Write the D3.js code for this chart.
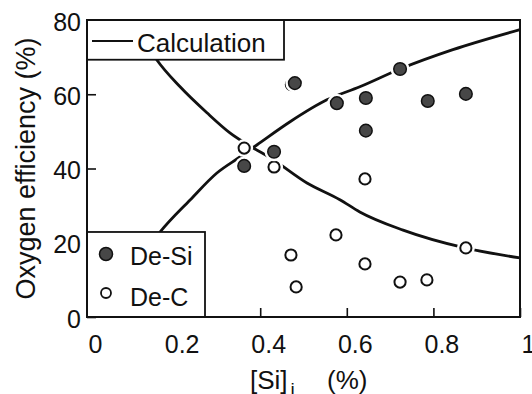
<!DOCTYPE html>
<html>
<head>
<meta charset="utf-8">
<script src="https://cdn.jsdelivr.net/npm/d3@7"></script>
<style>
  html, body { margin: 0; padding: 0; background: #fff; }
  svg { display: block; font-family: "Liberation Sans", Arial, sans-serif; }
</style>
</head>
<body>
<div id="chart"></div>
<script>
// De-Si (filled) observations
const deSiX = [0.363, 0.432, 0.48, 0.577, 0.644, 0.644, 0.723, 0.787, 0.875];
const deSiY = [40.7, 44.5, 63, 57.6, 59, 50.2, 66.8, 58.2, 60.1];

// De-C (open) observations
const deCX = [0.363, 0.432, 0.472, 0.471, 0.483, 0.575, 0.642, 0.642, 0.723, 0.785, 0.875];
const deCY = [45.5, 40.4, 62.6, 16.7, 8.1, 22.1, 37.2, 14.3, 9.4, 10, 18.6];

// Calculation curves
const calcUpX = [0.12, 0.169, 0.238, 0.300, 0.353, 0.393, 0.469, 0.554, 0.630, 0.723, 0.845, 1.0];
const calcUpY = [15, 22.9, 31.5, 38.8, 43.1, 46.4, 52.6, 58.5, 62, 66.8, 72, 77.4];
const calcDownX = [0.13, 0.161, 0.215, 0.277, 0.330, 0.383, 0.423, 0.508, 0.584, 0.630, 0.730, 0.873, 1.0];
const calcDownY = [75, 69.3, 62, 55, 49.6, 45.6, 42.9, 36.1, 31.6, 28.3, 23.4, 18.6, 15.9];

const xTicks = [0, 0.2, 0.4, 0.6, 0.8, 1];
const xTickLabels = ['0', '0.2', '0.4', '0.6', '0.8', '1'];
const yTicks = [0, 20, 40, 60, 80];

const width = 532, height = 394;
const margin = { left: 87, right: 12, top: 20, bottom: 77 };
const ink = '#111';

const svg = d3.select('#chart').append('svg')
  .attr('width', width)
  .attr('height', height);

const x = d3.scaleLinear().domain([0, 1]).range([margin.left, width - margin.right]);
const y = d3.scaleLinear().domain([0, 80]).range([height - margin.bottom, margin.top]);

// calculation curves
const line = d3.line()
  .x(d => x(d[0]))
  .y(d => y(d[1]))
  .curve(d3.curveMonotoneX);

[[calcUpX, calcUpY], [calcDownX, calcDownY]].forEach(([xs, ys]) => {
  svg.append('path')
    .datum(xs.map((v, i) => [v, ys[i]]))
    .attr('d', line)
    .attr('fill', 'none')
    .attr('stroke', ink)
    .attr('stroke-width', 2.8);
});

// markers, white halo breaks the curve where they sit on it
const deC = deCX.map((v, i) => [v, deCY[i]]);
const deSi = deSiX.map((v, i) => [v, deSiY[i]]);

svg.append('g').selectAll('circle')
  .data(deC)
  .enter().append('circle')
  .attr('cx', d => x(d[0]))
  .attr('cy', d => y(d[1]))
  .attr('r', 6)
  .attr('fill', '#fff')
  .attr('stroke', '#fff')
  .attr('stroke-width', 6);
svg.append('g').selectAll('circle')
  .data(deC)
  .enter().append('circle')
  .attr('cx', d => x(d[0]))
  .attr('cy', d => y(d[1]))
  .attr('r', 5.6)
  .attr('fill', '#fff')
  .attr('stroke', ink)
  .attr('stroke-width', 2);

svg.append('g').selectAll('circle')
  .data(deSi)
  .enter().append('circle')
  .attr('cx', d => x(d[0]))
  .attr('cy', d => y(d[1]))
  .attr('r', 7)
  .attr('fill', '#fff')
  .attr('stroke', '#fff')
  .attr('stroke-width', 5);
svg.append('g').selectAll('circle')
  .data(deSi)
  .enter().append('circle')
  .attr('cx', d => x(d[0]))
  .attr('cy', d => y(d[1]))
  .attr('r', 6.3)
  .attr('fill', '#474747')
  .attr('stroke', ink)
  .attr('stroke-width', 1.5);

// axes with inward ticks
const xAxis = svg.append('g')
  .attr('transform', `translate(0,${y(0)})`)
  .call(d3.axisBottom(x).tickValues(xTicks).tickSizeInner(-9).tickSizeOuter(0)
    .tickFormat((d, i) => xTickLabels[i]));
xAxis.select('.domain').remove();
xAxis.selectAll('line').attr('stroke', ink).attr('stroke-width', 1.6);
xAxis.selectAll('text')
  .attr('y', 36)
  .attr('dy', 0)
  .attr('dx', 8)
  .attr('fill', ink)
  .style('font-size', '25px');

const yAxis = svg.append('g')
  .attr('transform', `translate(${x(0)},0)`)
  .call(d3.axisLeft(y).tickValues(yTicks).tickSizeInner(-9).tickSizeOuter(0));
yAxis.select('.domain').remove();
yAxis.selectAll('line').attr('stroke', ink).attr('stroke-width', 1.6);
yAxis.selectAll('text')
  .attr('x', -6)
  .attr('dy', 10)
  .attr('fill', ink)
  .style('font-size', '25px');

// legend: calculation
const lg1 = svg.append('g');
lg1.append('rect')
  .attr('x', x(0)).attr('y', y(80))
  .attr('width', 197).attr('height', y(69.3) - y(80))
  .attr('fill', '#fff').attr('stroke', ink).attr('stroke-width', 1.8);
lg1.append('line')
  .attr('x1', x(0) + 5).attr('x2', x(0) + 46)
  .attr('y1', 41).attr('y2', 41)
  .attr('stroke', ink).attr('stroke-width', 2.2);
lg1.append('text')
  .attr('x', x(0) + 50).attr('y', 52)
  .attr('fill', ink)
  .style('font-size', '26px')
  .text('Calculation');

// legend: markers
const lg2 = svg.append('g');
lg2.append('rect')
  .attr('x', x(0)).attr('y', y(22.9))
  .attr('width', 118).attr('height', y(0) - y(22.9))
  .attr('fill', '#fff').attr('stroke', ink).attr('stroke-width', 1.8);
lg2.append('circle')
  .attr('cx', x(0) + 19).attr('cy', 254).attr('r', 6.5)
  .attr('fill', '#474747').attr('stroke', ink).attr('stroke-width', 1.5);
lg2.append('circle')
  .attr('cx', x(0) + 19).attr('cy', 293).attr('r', 5)
  .attr('fill', '#fff').attr('stroke', ink).attr('stroke-width', 1.8);
lg2.append('text')
  .attr('x', x(0) + 43).attr('y', 265)
  .attr('fill', ink)
  .style('font-size', '25px')
  .text('De-Si');
lg2.append('text')
  .attr('x', x(0) + 43).attr('y', 306)
  .attr('fill', ink)
  .style('font-size', '25px')
  .text('De-C');

// frame
svg.append('rect')
  .attr('x', x(0)).attr('y', y(80))
  .attr('width', x(1) - x(0)).attr('height', y(0) - y(80))
  .attr('fill', 'none').attr('stroke', ink).attr('stroke-width', 2);

// axis titles
svg.append('text')
  .attr('transform', `translate(35,${(y(0) + y(80)) / 2}) rotate(-90)`)
  .attr('text-anchor', 'middle')
  .attr('fill', ink)
  .style('font-size', '27px')
  .text('Oxygen efficiency (%)');

const xt = svg.append('text')
  .attr('x', 250).attr('y', 389)
  .attr('fill', ink)
  .style('font-size', '26px');
xt.append('tspan').text('[Si]');
xt.append('tspan').attr('dx', 3).attr('dy', 7).style('font-size', '19px').text('i');
xt.append('tspan').attr('x', 327).attr('dy', -7).text('(%)');
</script>
</body>
</html>
